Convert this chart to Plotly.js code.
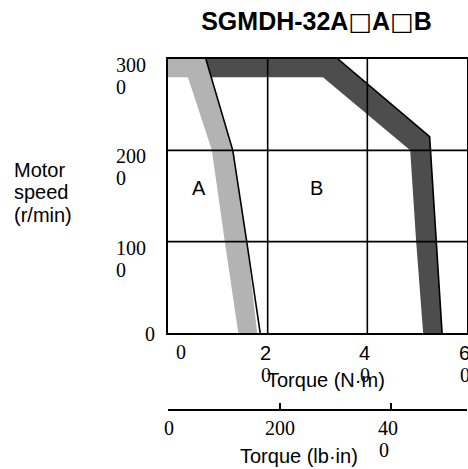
<!DOCTYPE html>
<html><head><meta charset="utf-8">
<script src="https://cdn.plot.ly/plotly-3.0.1.min.js"></script>
<style>html,body{margin:0;padding:0;background:#fff;}#chart{width:468px;height:469px;}</style>
</head><body><div id="chart"></div>
<script>
const titleText = "SGMDH-32A□A□B";
// A/B boundary line (torque N·m, speed r/min)
const lineATorque = [0.76, 1.30, 1.58, 1.85];
const lineASpeed  = [3000, 2000, 1000, 0];
// light gray band
const bandATorque = [0, 0.76, 1.30, 1.58, 1.79, 1.41, 1.14, 0.88, 0.40, 0];
const bandASpeed  = [3000, 3000, 2000, 1000, 0, 0, 1000, 2000, 2800, 2800];
// dark gray band
const bandBTorque = [0.76, 3.41, 5.25, 5.50, 5.12, 4.98, 4.86, 3.11, 0.87];
const bandBSpeed  = [3000, 3000, 2150, 0, 0, 1000, 2000, 2800, 2800];
// outer boundary of B
const lineBTorque = [3.41, 5.25, 5.50];
const lineBSpeed  = [3000, 2150, 0];
// region labels
const regionLabels = ["A", "B"];
const regionTorque = [0.62, 2.97];
const regionSpeed  = [1590, 1590];
// ticks
const xTickVals  = [0, 2, 4, 6];
const xTickText  = ["0", "2\n0", "4\n0", "6\n0"];
const yTickVals  = [0, 1000, 2000, 3000];
const yTickText  = ["0", "100\n0", "200\n0", "300\n0"];
const lbTickVals = [0, 200, 400];
const lbTickText = ["0", "200", "40\n0"];
const xTitle  = "Torque (N·m)";
const x2Title = "Torque (lb·in)";
const yTitleLines = ["Motor", "speed", "(r/min)"];

const SANS  = "Liberation Sans, Arial, sans-serif";
const SERIF = "Liberation Serif, Times New Roman, serif";
const W = 468, H = 469, ML = 168, MR = 1, MT = 59, MB = 5;
const PW = W - ML - MR, PH = H - MT - MB;
const pxX = p => (p - ML) / PW;
const pxY = p => (H - MB - p) / PH;
const yDomLo = pxY(333);

const traces = [
  {x: bandATorque, y: bandASpeed, mode: "lines", fill: "toself", fillcolor: "#b3b3b3",
   line: {width: 0, color: "#b3b3b3"}, hoverinfo: "skip", xaxis: "x", yaxis: "y"},
  {x: bandBTorque, y: bandBSpeed, mode: "lines", fill: "toself", fillcolor: "#4d4d4d",
   line: {width: 0, color: "#4d4d4d"}, hoverinfo: "skip", xaxis: "x", yaxis: "y"},
  {x: lineATorque, y: lineASpeed, mode: "lines", line: {color: "#000", width: 1.6},
   hoverinfo: "skip", xaxis: "x", yaxis: "y"},
  {x: lineBTorque, y: lineBSpeed, mode: "lines", line: {color: "#000", width: 1.6},
   hoverinfo: "skip", xaxis: "x", yaxis: "y"},
  {x: lbTickVals, y: lbTickVals.map(() => null), mode: "lines", hoverinfo: "skip",
   xaxis: "x2", yaxis: "y", showlegend: false}
];

const ann = [];
function add(o) {
  ann.push(Object.assign({showarrow: false, borderpad: 0}, o));
}
// y title
const yTitleMid = [170, 192, 215];
yTitleLines.forEach((t, i) => add({text: t, xref: "paper", yref: "paper", x: pxX(13), y: pxY(yTitleMid[i]),
  xanchor: "left", yanchor: "middle", align: "left", font: {family: SANS, size: 20, color: "#000"}}));
// x titles
add({text: xTitle, xref: "paper", yref: "paper", x: pxX(326), y: pxY(380), xanchor: "center", yanchor: "middle",
  font: {family: SANS, size: 20, color: "#000"}});
add({text: x2Title, xref: "paper", yref: "paper", x: pxX(299), y: pxY(456), xanchor: "center", yanchor: "middle",
  font: {family: SANS, size: 20, color: "#000"}});
// region labels
regionLabels.forEach((t, i) => add({text: t, xref: "x", yref: "y", x: regionTorque[i], y: regionSpeed[i],
  xanchor: "center", yanchor: "middle", font: {family: SANS, size: 20, color: "#000"}}));
// main x tick labels
xTickVals.forEach((v, i) => {
  const parts = xTickText[i].split("\n");
  if (parts.length === 1) {
    add({text: parts[0], xref: "x", yref: "paper", x: v, y: pxY(352), xanchor: "center", yanchor: "middle",
      xshift: 13, font: {family: SERIF, size: 20, color: "#000"}});
  } else {
    add({text: parts[0], xref: "x", yref: "paper", x: v, y: pxY(353), xanchor: "left", yanchor: "middle",
      xshift: -9, font: {family: SANS, size: 20, color: "#000"}});
    add({text: parts[1], xref: "x", yref: "paper", x: v, y: pxY(375), xanchor: "left", yanchor: "middle",
      xshift: -8, font: {family: SERIF, size: 20, color: "#000"}});
  }
});
// y tick labels
yTickVals.forEach((v, i) => {
  const parts = yTickText[i].split("\n");
  if (parts.length === 1) {
    add({text: parts[0], xref: "paper", yref: "y", x: pxX(156), y: v, xanchor: "right", yanchor: "middle",
      yshift: -1, font: {family: SERIF, size: 20, color: "#000"}});
  } else {
    add({text: parts[0], xref: "paper", yref: "y", x: pxX(115), y: v, xanchor: "left", yanchor: "middle",
      yshift: -6, font: {family: SERIF, size: 20, color: "#000"}});
    add({text: parts[1], xref: "paper", yref: "y", x: pxX(115), y: v, xanchor: "left", yanchor: "middle",
      yshift: -28, font: {family: SERIF, size: 20, color: "#000"}});
  }
});
// lb·in tick labels
lbTickVals.forEach((v, i) => {
  const parts = lbTickText[i].split("\n");
  if (parts.length === 1) {
    add({text: parts[0], xref: "x2", yref: "paper", x: v, y: pxY(428), xanchor: "center", yanchor: "middle",
      font: {family: SERIF, size: 20, color: "#000"}});
  } else {
    add({text: parts[0], xref: "x2", yref: "paper", x: v, y: pxY(428), xanchor: "left", yanchor: "middle",
      xshift: -14, font: {family: SERIF, size: 20, color: "#000"}});
    add({text: parts[1], xref: "x2", yref: "paper", x: v, y: pxY(450), xanchor: "left", yanchor: "middle",
      xshift: -13, font: {family: SERIF, size: 20, color: "#000"}});
  }
});

// grid lines drawn above the bands
const shapes = [];
xTickVals.slice(1, -1).forEach(v => shapes.push({type: "line", xref: "x", yref: "y", x0: v, x1: v,
  y0: yTickVals[0], y1: yTickVals[yTickVals.length - 1], layer: "above", line: {color: "#000", width: 1.6}}));
yTickVals.slice(1, -1).forEach(v => shapes.push({type: "line", xref: "x", yref: "y", x0: xTickVals[0],
  x1: xTickVals[xTickVals.length - 1], y0: v, y1: v, layer: "above", line: {color: "#000", width: 1.6}}));

// title: squares drawn with a font whose white square is cap-height sized
const titleHtml = "<b>" + titleText.split("□").join('<span style="font-family:DejaVu Sans;font-weight:normal">□</span>') + "</b>";

const layout = {
  width: W, height: H,
  margin: {l: ML, r: MR, t: MT, b: MB, pad: 0},
  paper_bgcolor: "#fff", plot_bgcolor: "#fff",
  showlegend: false,
  title: {text: titleHtml, font: {family: SANS, size: 25, color: "#000"},
    xref: "paper", x: pxX(316.5), xanchor: "center", yref: "container", y: 1 - 21.5 / H, yanchor: "middle"},
  xaxis: {range: [0, 6], tickvals: xTickVals, showticklabels: false, ticks: "",
    showgrid: false, zeroline: false, showline: true, mirror: true, linecolor: "#000", linewidth: 2,
    layer: "above traces", fixedrange: true},
  yaxis: {range: [0, 3000], domain: [yDomLo, 1], tickvals: yTickVals, showticklabels: false, ticks: "",
    showgrid: false, zeroline: false, showline: true, mirror: true, linecolor: "#000", linewidth: 2,
    layer: "above traces", fixedrange: true},
  xaxis2: {overlaying: "x", anchor: "free", position: pxY(410), side: "bottom",
    range: [-1.8, 537], tickvals: lbTickVals, showticklabels: false, ticks: "inside", ticklen: 6,
    tickwidth: 2, tickcolor: "#000", showgrid: false, zeroline: false, showline: true,
    linecolor: "#000", linewidth: 2, fixedrange: true},
  annotations: ann,
  shapes: shapes
};

Plotly.newPlot("chart", traces, layout, {staticPlot: true, displayModeBar: false});
</script>
</body></html>
